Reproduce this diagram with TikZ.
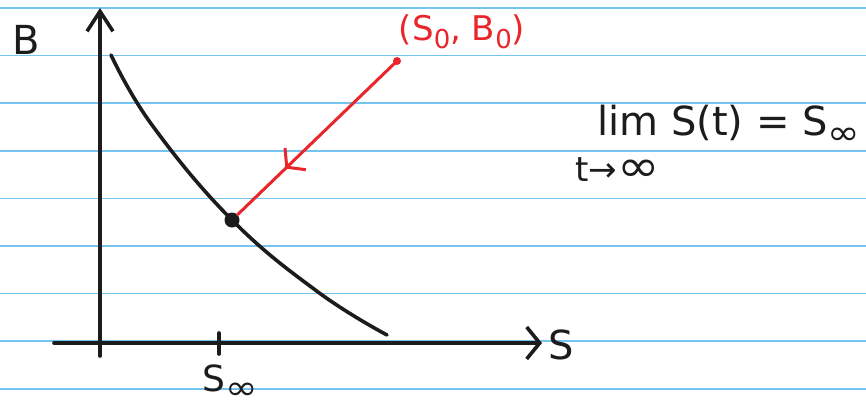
\documentclass[tikz,border=0pt]{standalone}
\usepackage{fontspec}
\setmainfont{DejaVu Sans}
\usetikzlibrary{arrows.meta,decorations.markings}

\newcommand\handsub[1]{\raisebox{-0.4ex}{\fontsize{26}{28}\selectfont #1}}
\newcommand\biginf{\scalebox{1.5}[1.3]{∞}}

\begin{document}
\begin{tikzpicture}[x=1pt,y=-1pt,font=\fontsize{40}{46}\selectfont]
\definecolor{paperRule}{HTML}{74C4EE}
\definecolor{penRed}{HTML}{E8262B}
\definecolor{penBlack}{HTML}{1C1C1C}
\def\ruleGap{47.6}
\def\ruleTop{8}
\tikzset{
	pen/.style={draw=penBlack,line width=3.6pt,line cap=round,line join=round},
	redpen/.style={draw=penRed,line width=3pt,line cap=round},
	hand/.style={inner sep=0pt,text=penBlack},
	dot/.style={circle,fill=penBlack,inner sep=0pt,minimum size=15pt},
	reddot/.style={circle,fill=penRed,inner sep=0pt,minimum size=8pt},
	midarrow/.style={postaction={decorate},decoration={markings,
		mark=at position 0.7 with {\arrow{Straight Barb[length=12pt,width=30pt]}}}}
}

\useasboundingbox[fill=white] (0,0) rectangle (866,410);
\foreach \k in {0,...,8} {
	\draw[paperRule,line width=1.6pt] (0,\ruleTop+\k*\ruleGap) -- (866,\ruleTop+\k*\ruleGap);
}

% axes
\coordinate (ybot) at (100,356);
\coordinate (ytop) at (100,8);
\coordinate (xleft) at (54,343);
\coordinate (xright) at (542,343);
\coordinate (tickup) at (219,333);
\coordinate (tickdn) at (219,354);
\draw[pen,-{Straight Barb[length=20pt,width=26pt]}] (ybot) -- (ytop);
\draw[pen,-{Straight Barb[length=13pt,width=32pt]}] (xleft) -- (xright);
\draw[pen] (tickup) -- (tickdn);

\node[hand] (ylab) at (26,40) {B};
\node[hand,anchor=west] (xlab) at (548,345) {S};
\node[hand,font=\fontsize{36}{40}\selectfont] (sinflab) at (230,382) {S\handsub{\biginf}};

% trajectory
\draw[pen] plot[smooth,tension=0.7] coordinates {(111,55) (152,125) (232,220) (318,292) (387,335)};
\node[dot] (eq) at (232,220) {};
\node[reddot] (start) at (397,61) {};
\draw[redpen,midarrow] (start.center) -- (eq);
\node[hand,text=penRed,font=\fontsize{34}{40}\selectfont] (startlab) at (462,32) {(S\handsub{0}, B\handsub{0})};

% limit
\node[hand,anchor=west] (limlab) at (597,125) {lim S(t) = S\handsub{\biginf}};
\node[hand,anchor=west,font=\fontsize{34}{38}\selectfont] (limsub) at (575,170) {t→\biginf};
\end{tikzpicture}
\end{document}
